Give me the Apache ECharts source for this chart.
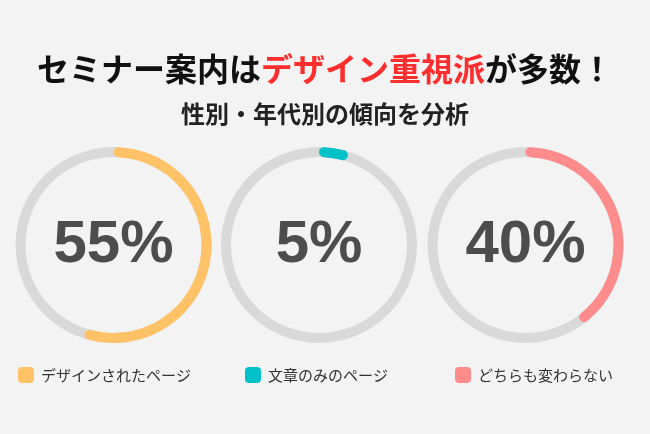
<!DOCTYPE html>
<html>
<head>
<meta charset="utf-8">
<script src="https://cdn.jsdelivr.net/npm/echarts@6/dist/echarts.min.js"></script>
<style>
html,body{margin:0;padding:0;background:#f3f3f3;}
#main{width:650px;height:434px;}
</style>
</head>
<body>
<div id="main"></div>
<script>
const categories = ['デザインされたページ', '文章のみのページ', 'どちらも変わらない'];
const values = [55, 5, 40];
const colors = ['#FFC266', '#00C0C8', '#FF8C8C'];
const titleParts = ['セミナー案内は', 'デザイン重視派', 'が多数！'];
const subtitleText = '性別・年代別の傾向を分析';

const centersX = [113.5, 319, 525.5];
const legendLeft = [18, 245, 455];
const cy = 245;
const radius = [88, 98];
const jp = '"Noto Sans CJK JP", "Noto Sans", sans-serif';

const series = [];
categories.forEach((cat, i) => {
  series.push({
    type: 'pie', name: 'track' + i, silent: true, animation: false,
    center: [centersX[i], cy], radius: radius,
    label: {show: false}, labelLine: {show: false},
    itemStyle: {color: '#D9D9D9'},
    emphasis: {disabled: true},
    data: [{name: 'track' + i, value: 100}]
  });
  series.push({
    type: 'pie', name: 'ring' + i, silent: true, animation: false,
    center: [centersX[i], cy], radius: radius,
    startAngle: 90, clockwise: true,
    labelLine: {show: false},
    emphasis: {disabled: true},
    data: [
      {name: cat, value: values[i],
       itemStyle: {color: colors[i], borderRadius: 5},
       label: {show: true, position: 'center', formatter: '{c}%',
               fontFamily: '"Liberation Sans", Arial, sans-serif', fontWeight: 'bold',
               fontSize: 60, color: '#4D4D4D'}},
      {name: 'rest' + i, value: 100 - values[i],
       itemStyle: {color: 'rgba(0,0,0,0)'}, label: {show: false}}
    ]
  });
});

const legends = categories.map((cat, i) => ({
  data: [{name: cat, itemStyle: {color: colors[i]}}],
  left: legendLeft[i], top: 367, padding: 0,
  orient: 'horizontal', selectedMode: false,
  icon: 'roundRect', itemWidth: 16, itemHeight: 16,
  textStyle: {fontFamily: jp, fontSize: 15, color: '#333', lineHeight: 16, padding: [0,0,0,2]}
}));

const chart = echarts.init(document.getElementById('main'), null, {renderer: 'canvas'});
chart.setOption({
  backgroundColor: '#F3F3F3',
  animation: false,
  title: [
    {
      text: '{a|' + titleParts[0] + '}{b|' + titleParts[1] + '}{a|' + titleParts[2] + '}',
      left: 'center', top: 53, padding: 0,
      textStyle: {
        rich: {
          a: {fontFamily: jp, fontWeight: 'bold', fontSize: 32, color: '#111', lineHeight: 32},
          b: {fontFamily: jp, fontWeight: 'bold', fontSize: 32, color: '#FF2E2E', lineHeight: 32}
        }
      }
    },
    {
      text: subtitleText, left: 'center', top: 101, padding: 0,
      textStyle: {fontFamily: jp, fontWeight: 'bold', fontSize: 24, color: '#222', lineHeight: 25}
    }
  ],
  legend: legends,
  series: series
});
</script>
</body>
</html>
